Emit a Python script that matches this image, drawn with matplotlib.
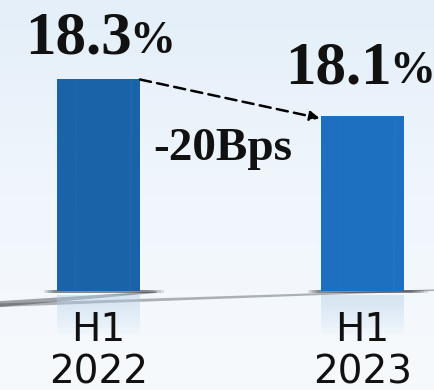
import numpy as np
import matplotlib
matplotlib.use("Agg")
from matplotlib import pyplot as plt
from matplotlib.colors import LinearSegmentedColormap

# margin values for the two half-years
periods = ["H1\n2022", "H1\n2023"]
margins = [18.3, 18.1]
change_label = "-20Bps"

bar_colors = ["#1b63a8", "#1d6fc0"]
base = 17.155          # bars start here (truncated axis)

fig = plt.figure(figsize=(4.34, 3.90), dpi=100)

# soft blue background gradient
bg = fig.add_axes([0, 0, 1, 1])
grad = np.linspace(0, 1, 256).reshape(-1, 1)
bg_cmap = LinearSegmentedColormap.from_list("bg", ["#e4eff9", "#f0f6fc", "#f7fafd"])
bg.imshow(grad, aspect="auto", cmap=bg_cmap, extent=[0, 1, 0, 1], origin="upper")
bg.set_xlim(0, 1)
bg.set_ylim(0, 1)
bg.axis("off")

# floor edge running slightly uphill to the right
fx = np.array([0.0, 1.0, 1.0, 0.0])
fy = np.array([0.222, 0.258, 0.254, 0.213])
bg.fill(fx, fy, color="#7d8086", alpha=0.6, lw=0)
bg.fill([0.0, 0.36, 0.36, 0.0], [0.228, 0.253, 0.249, 0.213], color="#4a4c51",
        alpha=0.5, lw=0)

ax = fig.add_axes([0, 0, 1, 1])
ax.patch.set_alpha(0)
ax.set_xlim(-0.373, 1.271)
ax.set_ylim(16.62, 18.73)
ax.axis("off")

x = np.arange(len(margins))
width = 0.314
heights = [m - base for m in margins]
bars = ax.bar(x, heights, width=width, bottom=base, color=bar_colors, zorder=3)

for b, c in zip(bars, bar_colors):
    bx, bw = b.get_x(), b.get_width()
    # faint streaks on the bar face
    for fr, a in [(0.22, 0.12), (0.88, 0.18)]:
        ax.plot([bx + bw * fr, bx + bw * (fr + 0.015)], [base, base + b.get_height()],
                color="#3a8ad6", lw=1, alpha=a, zorder=4)
    # dark contact shadow at the foot of the bar
    for k in range(6):
        ax.fill_between([bx - 0.05 + k * 0.008, bx + bw + 0.09 - k * 0.012],
                        base - 0.012, base + 0.004, color="#2c2e33",
                        alpha=0.12, lw=0, zorder=2)
    # pale glow under the bar
    for k in range(12):
        ax.fill_between([bx, bx + bw], base - 0.02 - k * 0.02, base - 0.02,
                        color="#b9d6ee", alpha=0.05, lw=0, zorder=1)

# value labels, the % sign set a little smaller
split = [0.127, 0.112]
lift = [26, 33]
for i, m in enumerate(margins):
    ax.annotate(f"{m:.1f}", xy=(x[i] + split[i], m), xytext=(0, lift[i]),
                textcoords="offset pixels", ha="right", va="baseline",
                fontsize=44, fontweight="bold", family="Liberation Serif",
                color="#111111")
    ax.annotate("%", xy=(x[i] + split[i], m), xytext=(-3, lift[i]),
                textcoords="offset pixels", ha="left", va="baseline",
                fontsize=33, fontweight="bold", family="Liberation Serif",
                color="#111111")

# category labels under the floor
for i, p in enumerate(periods):
    ax.text(x[i], base - 0.11, p, ha="center", va="top", fontsize=28,
            family="DejaVu Sans", color="#111111", linespacing=1.12)

# dashed arrow between the bar tops
ax.annotate("", xy=(x[1] - width / 2 - 0.005, margins[1] - 0.01),
            xytext=(x[0] + width / 2, margins[0]),
            arrowprops=dict(arrowstyle="-|>", color="black", lw=1.8,
                            linestyle=(0, (4.5, 2.5)), mutation_scale=14,
                            shrinkA=0, shrinkB=0), zorder=5)

ax.text(0.47, 17.865, change_label, ha="center", va="baseline", fontsize=34,
        fontweight="bold", family="Liberation Serif", color="#111111")

fig.savefig("out.png", dpi=100)
